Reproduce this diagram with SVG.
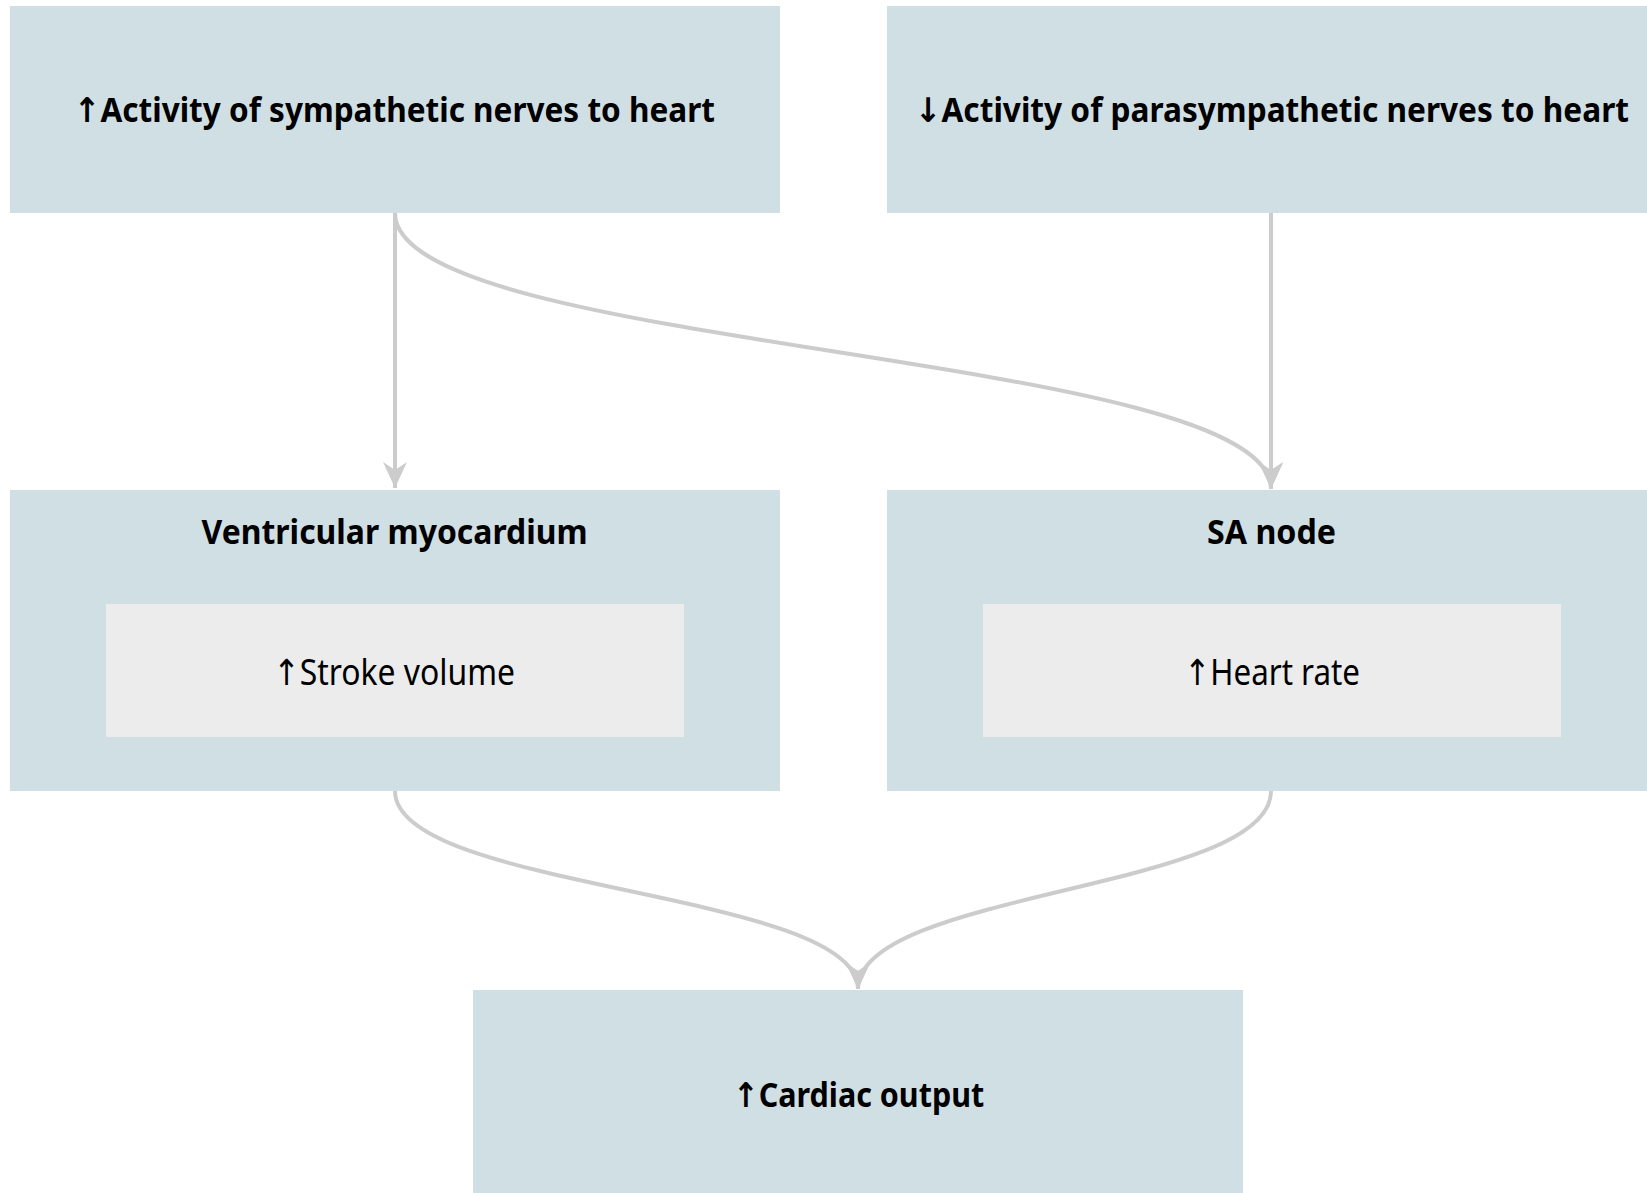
<svg xmlns="http://www.w3.org/2000/svg" width="1647" height="1193" viewBox="0 0 1647 1193">
<defs>
<style>
.box{fill:#d0dfe3}
.inner{fill:#ececec}
.t{font-family:"Noto Sans","Open Sans","DejaVu Sans",sans-serif;fill:#000;text-anchor:middle}
.b{font-weight:bold;font-size:34px}
.r{font-weight:normal;font-size:36px}
.link{fill:none;stroke:#cccccc;stroke-width:4}
</style>
<marker id="arr" markerUnits="userSpaceOnUse" markerWidth="27" markerHeight="25" refX="26" refY="12" orient="auto" viewBox="0 0 27 25">
<path d="M0,0 L26,12 L0,24 L8,12 z" fill="#cccccc"/>
</marker>
</defs>
<rect width="1647" height="1193" fill="#ffffff"/>
<g id="connectors">
<path class="link" d="M395,213 L395,488" marker-end="url(#arr)"/>
<path class="link" d="M1271,213 L1271,488" marker-end="url(#arr)"/>
<path class="link" d="M395,213 C395,351.5 1271,351.5 1271,489" marker-end="url(#arr)"/>
<path class="link" d="M395,791 C395,890.5 858,890.5 858,989" marker-end="url(#arr)"/>
<path class="link" d="M1271,791 C1271,890.5 858,890.5 858,989" marker-end="url(#arr)"/>
</g>
<g id="sympathetic">
<rect class="box" x="10" y="6" width="770" height="207"/>
<text class="t b" x="394.5" y="122" textLength="641" lengthAdjust="spacingAndGlyphs">↑Activity of sympathetic nerves to heart</text>
</g>
<g id="parasympathetic">
<rect class="box" x="887" y="6" width="770" height="207"/>
<text class="t b" x="1272" y="122" textLength="714" lengthAdjust="spacingAndGlyphs">↓Activity of parasympathetic nerves to heart</text>
</g>
<g id="ventricular">
<rect class="box" x="10" y="490" width="770" height="301"/>
<text class="t b" x="394.6" y="544" textLength="386" lengthAdjust="spacingAndGlyphs">Ventricular myocardium</text>
<g id="stroke-volume">
<rect class="inner" x="106" y="604" width="578" height="133"/>
<text class="t r" x="394" y="685" textLength="242" lengthAdjust="spacingAndGlyphs">↑Stroke volume</text>
</g>
</g>
<g id="sa-node">
<rect class="box" x="887" y="490" width="770" height="301"/>
<text class="t b" x="1271.5" y="544" textLength="129" lengthAdjust="spacingAndGlyphs">SA node</text>
<g id="heart-rate">
<rect class="inner" x="983" y="604" width="578" height="133"/>
<text class="t r" x="1272" y="685" textLength="176" lengthAdjust="spacingAndGlyphs">↑Heart rate</text>
</g>
</g>
<g id="cardiac-output">
<rect class="box" x="473" y="990" width="770" height="207"/>
<text class="t b" x="858.7" y="1107" textLength="251" lengthAdjust="spacingAndGlyphs">↑Cardiac output</text>
</g>
</svg>
